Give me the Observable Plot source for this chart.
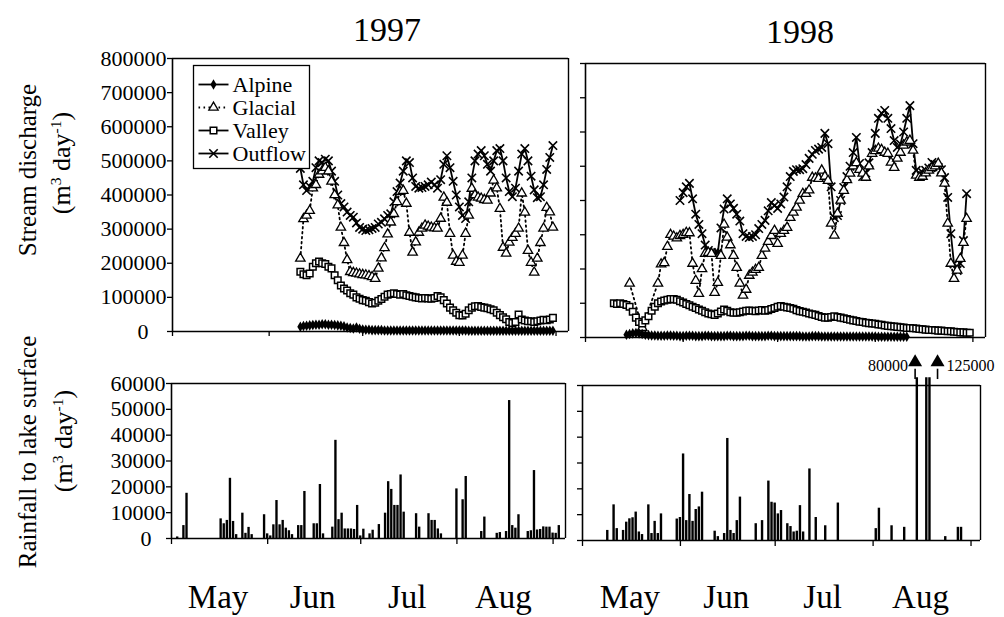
<!DOCTYPE html>
<html>
<head>
<meta charset="utf-8">
<script src="https://cdn.jsdelivr.net/npm/d3@7"></script>
<script src="https://cdn.jsdelivr.net/npm/@observablehq/plot@0.6"></script>
<style>
  html, body { margin: 0; padding: 0; background: #fff; }
  #chart { position: relative; width: 1004px; height: 617px; overflow: hidden; background: #fff;
    font-family: "Liberation Serif", "Times New Roman", "DejaVu Serif", serif; color: #000; }
  .title { position: absolute; font-size: 34px; line-height: 1; transform: translate(-50%, -50%); white-space: nowrap; }
  .ylab { position: absolute; line-height: 1; white-space: nowrap; transform: translate(-50%, -50%) rotate(-90deg); }
  .ylab sup { font-size: 60%; vertical-align: 0.55em; line-height: 0; }
</style>
</head>
<body>
<div id="chart"></div>
<script>
// ---------------- data ----------------
const yearTitles = ["1997", "1998"];
const seriesNames = ["Alpine", "Glacial", "Valley", "Outflow"];
const monthNames = ["May", "Jun", "Jul", "Aug"];
// day offsets counted from 1 May
const monthStarts = [0, 31, 61, 92, 123];
const monthMids = [15, 45.5, 76, 107];
const dischargeTicks = [0, 100000, 200000, 300000, 400000, 500000, 600000, 700000, 800000];
const rainTicks = [0, 10000, 20000, 30000, 40000, 50000, 60000];

// Stream discharge, thousand m3/day, one value per day
const start1997 = 41; // 11 June
const alpine1997 = [14,16,17,18,19,20,20,21,21,20, 20,19,18,17,15,12,10,9,12,8, 6,5,5,4,4,4,4,3,3,3,
  3,3,3,3,3,3,3,3,3,3, 3,3,3,3,3,3,3,3,3,3, 3,3,3,3,2,2,2,2,2,2, 2,2,2,2,2,2,2,2,2,2, 2,2,2,2,2,2,2,2,2,2, 2,2];
const glacial1997 = [214,330,340,354,420,430,460,470,480,470, 440,400,370,305,260,210,175,172,170,168,
  166,165,163,160,155,185,215,245,285,320, 345,380,410,413,375,290,232,262,290,302,
  311,308,305,303,302,331,393,378,287,223, 205,202,223,287,340,419,400,393,390,386,
  384,405,443,420,360,246,229,261,275,287, 302,405,349,237,202,173,214,260,302,363, 350,305];
const valley1997 = [175,168,165,170,190,200,205,200,198,190, 185,165,150,135,126,120,112,108,100,96,
  92,90,86,82,84,90,95,102,108,110, 112,110,108,110,106,104,102,100,98,97,
  98,97,96,98,104,100,92,82,70,62, 55,48,47,52,62,70,74,75,72,70,
  68,65,62,55,48,42,36,28,25,28, 50,35,32,30,30,28,30,32,34,33, 35,40];
const outflow1997 = [478,430,413,425,440,480,500,495,505,500, 470,440,400,375,365,350,340,335,318,305,
  300,296,298,302,305,315,320,330,340,345, 380,410,435,470,500,495,450,425,420,422,
  425,430,438,430,420,445,490,515,480,440, 400,365,340,331,380,450,500,520,530,515,
  490,470,500,530,536,500,450,410,395,420, 470,520,536,500,455,415,392,395,430,475, 510,545];

const alpineStart1998 = 13, glacialStart1998 = 14, valleyStart1998 = 9, outflowStart1998 = 30;
const alpine1998 = [8,10,12,13,12,10,8,7,6,6, 5,5,5,6,6,5,5,4,4,5, 5,5,4,4,4,5,5,4,4,4,
  4,4,5,5,4,4,4,4,5,5, 4,4,4,4,4,5,5,4,4,4, 4,4,4,4,4,4,3,3,3,4, 4,4,3,3,3,3,3,3,3,3,
  3,3,3,3,3,3,3,3,3,3, 2,2,2,2,2,2,2,2,2,2];
const glacial1998 = [158,null,null,null,29,null,null,null,null,158, 214,218,265,300,295,290,297,300,306,305,
  216,166,128,200,245,248,245,131,160,239, 330,292,270,239,204,158,123,140,181,190,
  198,204,239,260,280,297,312,274,303,312, 321,350,365,380,400,420,420,430,467,465,
  464,488,470,458,333,298,362,400,429,460, 479,500,510,490,479,467,500,537,545,552,
  548,540,537,511,496,523,540,561,570,575, 546,473,467,470,480,488,495,500,508,480,
  450,333,216,172,196,230,277,347];
const valley1998 = [100,98,100,98,95,90,75,58,45,41, 50,62,78,90,100,105,108,110,112,112,
  110,106,102,98,94,90,86,82,78,74, 70,68,66,70,76,82,78,74,72,72, 74,76,78,79,78,77,79,80,78,80,
  83,86,90,92,90,88,86,84,80,77, 75,73,70,68,66,63,60,58,58,60, 62,60,58,56,54,52,50,48,46,45,
  43,42,41,40,38,37,35,34,33,32, 31,30,29,28,28,27,26,25,24,23, 22,22,21,20,20,19,18,18,17,16, 15,15,14,14];
const outflow1998 = [400,423,440,450,405,360,330,303,270,254, 248,248,248,320,375,405,390,377,360,340,
  303,295,292,295,300,318,330,342,370,394, 385,377,390,410,440,470,485,490,490,493,
  505,523,535,546,550,555,596,566,440,350, 356,400,438,470,500,540,584,508,470,480,
  510,540,596,640,655,663,640,610,575,555, 565,600,640,677,566,488,479,482,488,495,
  511,505,496,490,467,409,303,215,196,216, 283,420];

// Rainfall to lake surface, thousand m3/day
const rainDays1997 = [2,4,5,16,17,18,19,20,21,23,24,25,26,30,31,32,33,34,35,36,37,38,39,41,42,43,46,47,48,49,
  52,53,54,55,56,57,58,59,60,61,62,64,65,67,69,70,71,72,73,74,75,79,80,83,84,85,86,87,92,94,95,100,101,105,106,
  108,109,110,111,112,115,116,117,118,119,120,121,122,123,124,125];
const rainValues1997 = [0.6,5,17.5,7.6,5.7,7,23.3,6.6,1.5,9.8,2,4.3,1.5,9.2,1.8,1,5.3,14.7,5.3,7,4,3,1.5,5,5,18.2,5.7,5.7,20.9,1.8,
  4.4,38,7.3,9.8,3.7,3.7,3.7,3.5,12.8,1,3.6,1.8,3.2,5.4,9.8,22,19,12.8,12.8,24.6,10.2,9.6,4.4,9.6,7,7,3.7,1.8,19.2,15,24,2.7,8.3,2,2.3,
  2.7,53.4,5,4,9.2,2.7,3,26.3,3.3,3.5,4.5,4.4,4.4,2.1,2,5];
const rainDays1998 = [8,10,11,13,14,15,16,17,18,19,21,22,23,24,25,30,31,32,33,34,35,36,37,38,42,43,45,46,47,48,49,50,
  55,57,59,60,61,62,63,65,66,67,68,69,70,72,74,77,81,93,94,98,102,106,109,110,115,119,120];
const rainValues1998 = [3.9,13.8,4.6,3.9,7.1,8.4,8.8,11,3.3,2.3,13.8,2.7,7.4,2.7,10.3,8.3,8.9,33.5,7.7,17.8,7.4,12,13,18.7,3.6,1.5,2.7,39.5,3.9,2.7,7.7,16.8,
  6.5,7.7,23,14.8,14.5,10.3,11.6,6.5,5.4,3.3,3.6,13.5,3.3,27.7,8.9,5.7,14.5,4.6,12.5,5.7,5.1,80,65,125,1.5,5.1,5.1];
// off-scale annotations (1998)
const arrowDays = [105.3, 112.4];
const arrowLabels = ["80000", "125000"];

// ---------------- helpers ----------------
const SERIF = '"Liberation Serif", "Times New Roman", "DejaVu Serif", serif';
const baseStyle = {background: "transparent", overflow: "visible", color: "black", fontFamily: SERIF, fontSize: "22px"};
const series = (start, arr) => arr.map((v, i) => ({day: start + i, v: v == null ? null : v * 1000})).filter(d => d.v != null);
const rainRows = (days, vals) => days.map((day, i) => ({day, v: vals[i] * 1000}));
const chart = document.getElementById("chart");

const SYM = {
  alpine: {symbol: "diamond", r: 3.2, fill: "black"},
  glacial: {symbol: "triangle", r: 3.5, fill: "white", stroke: "black", strokeWidth: 1.3},
  valley: {symbol: "square", r: 3.7, fill: "white", stroke: "black", strokeWidth: 1.5},
  outflow: {symbol: "times", r: 3.9, stroke: "black", strokeWidth: 1.6}
};

function place(node, left, top) {
  node.style.position = "absolute";
  node.style.left = left + "px";
  node.style.top = top + "px";
  node.style.maxWidth = "none";
  chart.appendChild(node);
}

function dischargePlot(o) {
  return Plot.plot({
    width: o.width, height: o.height,
    marginLeft: o.ml, marginRight: o.mr, marginTop: o.mt, marginBottom: o.mb,
    x: {domain: [0, o.xMax]},
    y: {domain: [0, 800000]},
    style: baseStyle,
    marks: [
      Plot.ruleY([800000], {strokeWidth: 1.4}),
      Plot.ruleX([o.xMax], {strokeWidth: 1.4}),
      Plot.ruleY([0], {strokeWidth: 1.6}),
      Plot.ruleX([0], {strokeWidth: 1.6}),
      Plot.axisY({ticks: dischargeTicks, tickSize: 5, tickPadding: 1, strokeWidth: 1.3, fontSize: 22, label: null,
        tickFormat: d => (o.labels && d !== 0) ? String(d) : ""}),
      o.labels ? Plot.text([0], {y: d => d, frameAnchor: "left", text: () => "0", dx: -24, textAnchor: "end", fontSize: 22}) : null,
      Plot.axisX({ticks: monthStarts, tickSize: 5, strokeWidth: 1.3, tickFormat: () => "", label: null}),
      Plot.line(o.outflow, {x: "day", y: "v", stroke: "black", strokeWidth: 1.8}),
      Plot.dot(o.outflow, {x: "day", y: "v", ...SYM.outflow}),
      Plot.line(o.glacial, {x: "day", y: "v", stroke: "black", strokeWidth: 1.8, strokeDasharray: "1.6,3.4"}),
      Plot.dot(o.glacial, {x: "day", y: "v", ...SYM.glacial}),
      Plot.line(o.valley, {x: "day", y: "v", stroke: "black", strokeWidth: 2.2}),
      Plot.dot(o.valley, {x: "day", y: "v", ...SYM.valley}),
      Plot.line(o.alpine, {x: "day", y: "v", stroke: "black", strokeWidth: 2.5}),
      Plot.dot(o.alpine, {x: "day", y: "v", ...SYM.alpine})
    ].filter(Boolean)
  });
}

function rainPlot(o) {
  const arrows = (o.arrowDays || []).map((day, i) => ({day, label: o.arrowLabels[i], i}));
  return Plot.plot({
    width: o.width, height: o.height,
    marginLeft: o.ml, marginRight: o.mr, marginTop: o.mt, marginBottom: o.mb,
    x: {domain: [0, o.xMax]},
    y: {domain: [0, 60000]},
    style: baseStyle,
    marks: [
      Plot.rect(o.rain, {x1: d => d.day - 0.38, x2: d => d.day + 0.38, y1: 0, y2: d => Math.min(d.v, 63000), fill: "black"}),
      Plot.ruleY([60000], {strokeWidth: 1.4}),
      Plot.ruleX([o.xMax], {strokeWidth: 1.4}),
      Plot.ruleY([0], {strokeWidth: 1.6}),
      Plot.ruleX([0], {strokeWidth: 1.6}),
      Plot.axisY({ticks: rainTicks, tickSize: 5, tickPadding: 1, strokeWidth: 1.3, fontSize: 22, label: null,
        tickFormat: d => (o.labels && d !== 0) ? String(d) : ""}),
      o.labels ? Plot.text([0], {y: d => d, frameAnchor: "left", text: () => "0", dx: -20, textAnchor: "end", fontSize: 22}) : null,
      Plot.axisX({ticks: monthStarts, tickSize: 6, strokeWidth: 1.3, tickFormat: () => "", label: null}),
      Plot.text(monthNames, {x: (d, i) => monthMids[i], frameAnchor: "bottom", dy: o.monthDy, text: d => d, fontSize: 33}),
      arrows.length ? Plot.link(arrows, {x1: "day", x2: "day", y1: 62500, y2: 66500, stroke: "black", strokeWidth: 1.6}) : null,
      arrows.length ? Plot.dot(arrows, {x: "day", y: 69000, symbol: "triangle", r: 5.2, fill: "black"}) : null,
      arrows.length ? Plot.text(arrows.filter(a => a.i === 0), {x: "day", y: 67500, text: "label", textAnchor: "end", dx: -7, fontSize: 16}) : null,
      arrows.length ? Plot.text(arrows.filter(a => a.i === 1), {x: "day", y: 67500, text: "label", textAnchor: "start", dx: 9, fontSize: 16}) : null
    ].filter(Boolean)
  });
}

function legendPlot() {
  const solid = seriesNames.filter(n => n !== "Glacial");
  return Plot.plot({
    width: 116, height: 103, margin: 0,
    x: {domain: [0, 1], range: [5, 35], axis: null},
    y: {type: "point", domain: seriesNames, range: [19, 88], padding: 0, axis: null},
    style: baseStyle,
    marks: [
      Plot.frame({fill: "white", stroke: "black", strokeWidth: 1.3}),
      Plot.link(solid, {x1: () => 0, x2: () => 1, y1: d => d, y2: d => d, stroke: "black", strokeWidth: 1.8}),
      Plot.link(["Glacial"], {x1: () => 0, x2: () => 1, y1: d => d, y2: d => d, stroke: "black", strokeWidth: 1.8, strokeDasharray: "1.6,3.4"}),
      Plot.dot(["Alpine"], {x: () => 0.5, y: d => d, ...SYM.alpine}),
      Plot.dot(["Glacial"], {x: () => 0.5, y: d => d, ...SYM.glacial}),
      Plot.dot(["Valley"], {x: () => 0.5, y: d => d, ...SYM.valley}),
      Plot.dot(["Outflow"], {x: () => 0.5, y: d => d, ...SYM.outflow}),
      Plot.text(seriesNames, {x: () => 1, y: d => d, text: d => d, textAnchor: "start", dx: 4, fontSize: 22})
    ]
  });
}

// ---------------- panels ----------------
place(dischargePlot({
  width: 500, height: 310, ml: 82, mr: 22, mt: 18, mb: 19, xMax: 127, labels: true,
  alpine: series(start1997, alpine1997), glacial: series(start1997, glacial1997),
  valley: series(start1997, valley1997), outflow: series(start1997, outflow1997)
}), 90, 40);

place(dischargePlot({
  width: 444, height: 310, ml: 25, mr: 19, mt: 23, mb: 13, xMax: 127, labels: false,
  alpine: series(alpineStart1998, alpine1998), glacial: series(glacialStart1998, glacial1998),
  valley: series(valleyStart1998, valley1998), outflow: series(outflowStart1998, outflow1998)
}), 560, 40);

place(rainPlot({
  width: 490, height: 257, ml: 81, mr: 15, mt: 23, mb: 79, xMax: 127, labels: true, monthDy: 69,
  rain: rainRows(rainDays1997, rainValues1997)
}), 90, 360);

place(rainPlot({
  width: 444, height: 277, ml: 22, mr: 24, mt: 45, mb: 77, xMax: 126, labels: false, monthDy: 67,
  rain: rainRows(rainDays1998, rainValues1998), arrowDays, arrowLabels
}), 560, 340);

place(legendPlot(), 193, 65);

// ---------------- text ----------------
function addDiv(cls, html, left, top, size) {
  const d = document.createElement("div");
  d.className = cls;
  d.innerHTML = html;
  d.style.left = left + "px";
  d.style.top = top + "px";
  if (size) d.style.fontSize = size + "px";
  chart.appendChild(d);
}
addDiv("title", yearTitles[0], 387, 30);
addDiv("title", yearTitles[1], 800, 32);
addDiv("ylab", "Stream discharge", 27, 170, 25);
addDiv("ylab", "(m<sup>3</sup> day<sup>-1</sup>)", 62, 163, 26);
addDiv("ylab", "Rainfall to lake surface", 27, 452, 25);
addDiv("ylab", "(m<sup>3</sup> day<sup>-1</sup>)", 64, 441, 26);
</script>
</body>
</html>
